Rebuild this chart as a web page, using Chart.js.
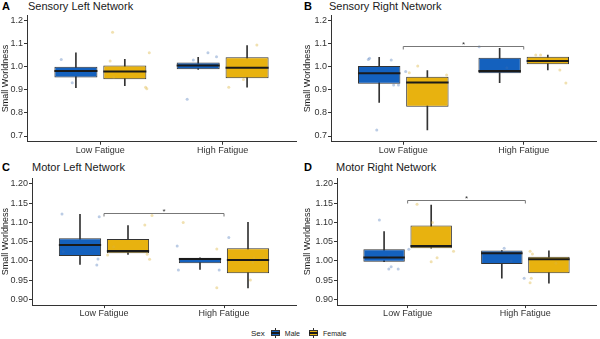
<!DOCTYPE html>
<html>
<head>
<meta charset="utf-8">
<script src="https://cdn.jsdelivr.net/npm/chart.js@4.4.0/dist/chart.umd.min.js"></script>
<style>
  body { margin: 0; width: 600px; height: 339px; background: #fff; position: relative; overflow: hidden;
         font-family: "Liberation Sans", Arial, sans-serif; }
  canvas { position: absolute; }
  .tag { position: absolute; font-size: 11px; font-weight: bold; color: #000; line-height: 12px; }
  .ttl { position: absolute; font-size: 11px; color: #1a1a1a; line-height: 12px; white-space: nowrap; }
  #legend { position: absolute; left: 251px; top: 327px; height: 12px; display: flex; align-items: center;
            font-size: 7px; color: #1a1a1a; white-space: nowrap; }
  #legend .lab { margin-right: 4px; }
  .key { position: relative; width: 9px; height: 10px; margin-right: 5px; }
  .key .wh { position: absolute; left: 4px; top: 0; width: 1px; height: 10px; background: #333; }
  .key .bx { position: absolute; left: 0; top: 2px; width: 7px; height: 4px; border: 1px solid #333; }
  .key .md { position: absolute; left: 0; top: 4px; width: 9px; height: 2px; background: #1a1a1a; }
</style>
</head>
<body>
<div id="legend">
  <span style="font-size:8px;margin-right:6px">Sex</span>
  <div class="key"><div class="wh"></div><div class="bx" style="background:#1461BE"></div><div class="md"></div></div>
  <span class="lab" style="margin-right:9px">Male</span>
  <div class="key"><div class="wh"></div><div class="bx" style="background:#E8B20F"></div><div class="md"></div></div>
  <span class="lab">Female</span>
</div>
<script>
const groups = ['Low Fatigue', 'High Fatigue'];
const maleX = [0.8, 1.8];
const femaleX = [1.2, 2.2];

const sensoryTicks = [0.7, 0.8, 0.9, 1.0, 1.1, 1.2];
const motorTicks = [0.90, 0.95, 1.00, 1.05, 1.10, 1.15, 1.20];

// [lower whisker, Q1, median, Q3, upper whisker] for Low / High fatigue
const sensoryLeftMale = [[0.910, 0.954, 0.983, 1.001, 1.062], [0.990, 0.990, 1.006, 1.020, 1.042]];
const sensoryLeftFemale = [[0.919, 0.947, 0.980, 1.006, 1.033], [0.912, 0.951, 0.997, 1.042, 1.093]];
const sensoryRightMale = [[0.846, 0.927, 0.973, 1.004, 1.042], [0.932, 0.973, 0.983, 1.040, 1.081]];
const sensoryRightFemale = [[0.726, 0.827, 0.933, 0.958, 0.984], [0.987, 1.012, 1.026, 1.045, 1.052]];
const motorLeftMale = [[0.991, 1.013, 1.041, 1.059, 1.121], [0.978, 0.994, 1.005, 1.008, 1.008]];
const motorLeftFemale = [[1.017, 1.020, 1.026, 1.057, 1.092], [0.930, 0.968, 1.002, 1.033, 1.100]];
const motorRightMale = [[0.998, 0.998, 1.009, 1.030, 1.076], [0.955, 0.992, 1.020, 1.027, 1.027]];
const motorRightFemale = [[1.033, 1.033, 1.039, 1.092, 1.145], [0.942, 0.968, 1.004, 1.011, 1.026]];

// individual subjects: [jittered x, value]
const sensoryLeftMalePts = [[0.68, 1.033], [0.77, 0.932], [0.94, 0.980], [1.71, 0.860], [1.88, 1.062], [1.95, 1.045], [1.76, 1.030]];
const sensoryLeftFemalePts = [[1.08, 1.026], [1.10, 1.151], [1.40, 1.062], [1.37, 0.912], [1.38, 0.905], [1.11, 0.956], [2.28, 1.096], [2.05, 0.912], [2.17, 0.946]];
const sensoryRightMalePts = [[0.72, 1.038], [0.71, 1.033], [0.90, 1.030], [0.92, 0.922], [0.96, 0.922], [0.78, 0.726], [1.02, 0.980], [1.63, 1.088], [1.86, 0.997]];
const sensoryRightFemalePts = [[1.12, 1.004], [1.36, 0.965], [1.36, 0.845], [1.10, 0.930], [1.05, 0.975], [2.14, 1.052], [2.10, 1.052], [2.30, 0.987], [2.35, 0.930]];
const motorLeftMalePts = [[0.65, 1.122], [0.66, 1.024], [0.96, 1.115], [0.95, 1.005], [0.94, 0.989], [1.61, 1.039], [1.62, 0.976], [1.96, 0.976], [2.04, 1.061]];
const motorLeftFemalePts = [[1.08, 1.037], [1.34, 1.093], [1.40, 1.118], [1.38, 1.004], [1.03, 1.015], [1.36, 1.017], [1.66, 1.100], [1.94, 1.031], [1.94, 0.930], [2.22, 0.950], [2.25, 1.008], [2.33, 1.008], [2.24, 0.996]];
const motorRightMalePts = [[0.76, 1.106], [0.84, 1.011], [0.84, 0.979], [0.86, 0.985], [0.92, 0.979], [1.01, 1.030], [1.82, 1.033], [1.88, 1.000], [1.99, 0.955]];
const motorRightFemalePts = [[1.08, 1.147], [1.21, 1.100], [1.20, 0.998], [1.25, 1.008], [1.39, 1.025], [2.05, 0.955], [2.04, 0.943], [2.06, 1.018], [2.26, 0.994], [2.04, 1.025]];

const panelTags = ['A', 'B', 'C', 'D'];
const panelTitles = ['Sensory Left Network', 'Sensory Right Network', 'Motor Left Network', 'Motor Right Network'];
const sigBrackets = [null, 1.093, 1.124, 1.158];

const maleFill = '#1461BE';
const femaleFill = '#E8B20F';
const maleDot = 'rgba(60,110,180,0.35)';
const femaleDot = 'rgba(220,180,60,0.4)';
const lineCol = '#333333';
const FONT = '"Liberation Sans", Arial, sans-serif';

// placement of each panel on the page
const frames = [
  { left: 0, top: 0, w: 300, h: 160, axisW: 27, padTop: 15.25, padRight: 4, xAxisH: 18.25, yTitlePad: 0, tagX: 2, titleX: 28, titleY: 0 },
  { left: 300, top: 0, w: 300, h: 160, axisW: 31, padTop: 15.25, padRight: 3, xAxisH: 18.25, yTitlePad: 2.5, tagX: 304, titleX: 329, titleY: 0 },
  { left: 0, top: 160, w: 300, h: 160, axisW: 32, padTop: 18.2, padRight: 4, xAxisH: 14.9, yTitlePad: 0, tagX: 2, titleX: 32, titleY: 161 },
  { left: 300, top: 160, w: 300, h: 160, axisW: 37, padTop: 18.2, padRight: 3, xAxisH: 14.9, yTitlePad: 2.5, tagX: 304, titleX: 336, titleY: 161 },
];

const panelData = [
  { male: sensoryLeftMale, female: sensoryLeftFemale, malePts: sensoryLeftMalePts, femalePts: sensoryLeftFemalePts, ticks: sensoryTicks, digits: 1 },
  { male: sensoryRightMale, female: sensoryRightFemale, malePts: sensoryRightMalePts, femalePts: sensoryRightFemalePts, ticks: sensoryTicks, digits: 1 },
  { male: motorLeftMale, female: motorLeftFemale, malePts: motorLeftMalePts, femalePts: motorLeftFemalePts, ticks: motorTicks, digits: 2 },
  { male: motorRightMale, female: motorRightFemale, malePts: motorRightMalePts, femalePts: motorRightFemalePts, ticks: motorTicks, digits: 2 },
];

function whiskerSet(stats, xs) {
  return {
    type: 'bar',
    data: stats.map((s, i) => ({ x: xs[i], y: [s[0], s[4]] })),
    backgroundColor: lineCol,
    borderWidth: 0,
    barThickness: 1,
    grouped: false,
    order: 3,
  };
}

function boxSet(stats, xs, fill) {
  return {
    type: 'bar',
    data: stats.map((s, i) => ({ x: xs[i], y: [s[1], s[3]] })),
    backgroundColor: fill,
    borderColor: lineCol,
    borderWidth: 1,
    borderSkipped: false,
    grouped: false,
    categoryPercentage: 1,
    barPercentage: 0.88,
    order: 2,
  };
}

function pointSet(pts, color) {
  return {
    type: 'scatter',
    data: pts.map(([x, y]) => ({ x, y })),
    backgroundColor: color,
    borderWidth: 0,
    pointRadius: 1.5,
    order: 1,
  };
}

function makePanel(idx) {
  const f = frames[idx];
  const d = panelData[idx];

  const tag = document.createElement('div');
  tag.className = 'tag';
  tag.style.left = f.tagX + 'px';
  tag.style.top = f.titleY + 'px';
  tag.textContent = panelTags[idx];
  document.body.appendChild(tag);

  const ttl = document.createElement('div');
  ttl.className = 'ttl';
  ttl.style.left = f.titleX + 'px';
  ttl.style.top = f.titleY + 'px';
  ttl.textContent = panelTitles[idx];
  document.body.appendChild(ttl);

  const cv = document.createElement('canvas');
  cv.width = f.w;
  cv.height = f.h;
  cv.style.left = f.left + 'px';
  cv.style.top = f.top + 'px';
  cv.style.width = f.w + 'px';
  cv.style.height = f.h + 'px';
  document.body.appendChild(cv);

  const span = d.ticks[d.ticks.length - 1] - d.ticks[0];
  const yMin = d.ticks[0] - span * 0.05;
  const yMax = d.ticks[d.ticks.length - 1] + span * 0.05;
  const bracket = sigBrackets[idx];
  const medians = [d.male.map(s => s[2]), d.female.map(s => s[2])];

  const extras = {
    id: 'boxExtras' + idx,
    afterDatasetsDraw(chart) {
      const { ctx, scales: { x, y } } = chart;
      ctx.save();
      ctx.strokeStyle = '#1a1a1a';
      ctx.lineWidth = 2;
      [2, 3].forEach((di, k) => {
        chart.getDatasetMeta(di).data.forEach((bar, i) => {
          const py = y.getPixelForValue(medians[k][i]);
          ctx.beginPath();
          ctx.moveTo(bar.x - bar.width / 2, py);
          ctx.lineTo(bar.x + bar.width / 2, py);
          ctx.stroke();
        });
      });
      if (bracket !== null) {
        const x1 = x.getPixelForValue(1);
        const x2 = x.getPixelForValue(2);
        const by = Math.round(y.getPixelForValue(bracket)) + 0.5;
        ctx.strokeStyle = '#777';
        ctx.lineWidth = 1;
        ctx.beginPath();
        ctx.moveTo(x1, by + 3);
        ctx.lineTo(x1, by);
        ctx.lineTo(x2, by);
        ctx.lineTo(x2, by + 3);
        ctx.stroke();
        ctx.fillStyle = '#333';
        ctx.font = '8px ' + FONT;
        ctx.textAlign = 'center';
        ctx.textBaseline = 'middle';
        ctx.fillText('*', (x1 + x2) / 2, by - 2);
      }
      ctx.restore();
    },
  };

  new Chart(cv, {
    type: 'bar',
    data: {
      datasets: [
        whiskerSet(d.male, maleX),
        whiskerSet(d.female, femaleX),
        boxSet(d.male, maleX, maleFill),
        boxSet(d.female, femaleX, femaleFill),
        pointSet(d.malePts, maleDot),
        pointSet(d.femalePts, femaleDot),
      ],
    },
    options: {
      responsive: false,
      animation: false,
      events: [],
      layout: { padding: { top: f.padTop, right: f.padRight, left: 0, bottom: 0 } },
      plugins: { legend: { display: false }, tooltip: { enabled: false } },
      scales: {
        x: {
          type: 'linear',
          min: 0.4,
          max: 2.6,
          offset: false,
          afterBuildTicks: axis => { axis.ticks = groups.map((g, i) => ({ value: i + 1 })); },
          afterFit: axis => { axis.height = f.xAxisH; },
          grid: { display: true, drawOnChartArea: false, drawTicks: true, tickLength: 3, color: lineCol, offset: false },
          border: { display: true, color: lineCol, width: 1 },
          ticks: {
            autoSkip: false, maxRotation: 0, padding: 0,
            color: '#333', font: { family: FONT, size: 9 },
            callback: v => groups[Math.round(v) - 1],
          },
        },
        y: {
          min: yMin,
          max: yMax,
          afterBuildTicks: axis => { axis.ticks = d.ticks.map(v => ({ value: v })); },
          afterFit: axis => { axis.width = f.axisW; },
          grid: { display: true, drawOnChartArea: false, drawTicks: true, tickLength: 3, color: lineCol },
          border: { display: true, color: lineCol, width: 1 },
          ticks: {
            padding: 1, color: '#333', font: { family: FONT, size: 9 },
            callback: v => v.toFixed(d.digits),
          },
          title: {
            display: true, text: 'Small Worldness', color: '#1a1a1a',
            font: { family: FONT, size: 9 }, padding: { top: f.yTitlePad, bottom: 0 },
          },
        },
      },
    },
    plugins: [extras],
  });
}

panelTags.forEach((t, i) => makePanel(i));
</script>
</body>
</html>
